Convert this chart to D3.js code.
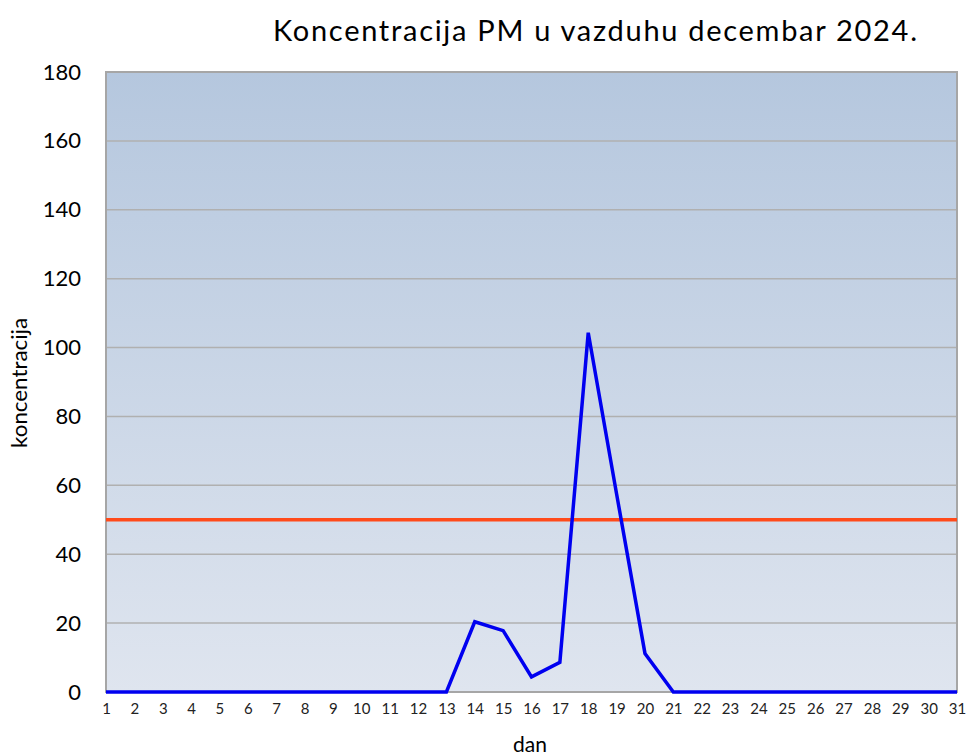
<!DOCTYPE html>
<html><head><meta charset="utf-8">
<script src="https://cdn.jsdelivr.net/npm/d3@7"></script>
<style>body{margin:0;background:#fff}svg{display:block}text{font-family:Lato,"Open Sans",sans-serif}</style>
</head><body><svg id="c" width="967" height="756"></svg>
<script>
const days = d3.range(1, 32);
const values = [0,0,0,0,0,0,0,0,0,0,0,0,0,20.4,17.8,4.4,8.6,104.3,57.5,11.2,0,0,0,0,0,0,0,0,0,0,0];
const limit = 50;
const yTicks = [0,20,40,60,80,100,120,140,160,180];
const title = "Koncentracija PM u vazduhu decembar 2024.";

const svg = d3.select("#c");
const L=106,R=957,T=72,B=692;
const x = d3.scaleLinear().domain([1,31]).range([L,R]);
const y = d3.scaleLinear().domain([0,180]).range([B,T]);

const defs = svg.append("defs");
const g = defs.append("linearGradient").attr("id","bg").attr("x1",0).attr("y1",0).attr("x2",0).attr("y2",1);
g.append("stop").attr("offset","0%").attr("stop-color","#b5c7de");
g.append("stop").attr("offset","100%").attr("stop-color","#dfe5ef");
svg.append("rect").attr("x",L).attr("y",T).attr("width",R-L).attr("height",B-T).attr("fill","url(#bg)");

svg.append("g").selectAll("line").data(yTicks.filter(d=>d>0)).join("line")
  .attr("x1",L).attr("x2",R).attr("y1",d=>y(d)).attr("y2",d=>y(d))
  .attr("stroke","#b0b0b0").attr("stroke-width",1.5);

svg.append("rect").attr("x",L).attr("y",T).attr("width",R-L).attr("height",B-T)
  .attr("fill","none").attr("stroke","#a6a6a6").attr("stroke-width",2);

// y axis
const ya = svg.append("g").attr("transform",`translate(${L},0)`)
  .call(d3.axisLeft(y).tickValues(yTicks).tickSize(0).tickPadding(25));
ya.select(".domain").remove();
ya.selectAll("text").attr("font-size",22).attr("fill","#000").style("font-family","Lato,sans-serif");

// x axis
const xa = svg.append("g").attr("transform",`translate(0,${B})`)
  .call(d3.axisBottom(x).tickValues(days).tickSize(0).tickPadding(11));
xa.select(".domain").remove();
xa.selectAll("text").attr("font-size",15).attr("fill","#222").style("font-family","Lato,sans-serif");

// limit line
svg.append("line").attr("x1",L).attr("x2",R).attr("y1",y(limit)).attr("y2",y(limit))
  .attr("stroke","#ff4a1a").attr("stroke-width",3.5);

// data line
svg.append("path").datum(values)
  .attr("d", d3.line().x((d,i)=>x(days[i])).y(d=>y(d)))
  .attr("fill","none").attr("stroke","#0000f0").attr("stroke-width",3.5).attr("stroke-linejoin","miter");

svg.append("text").attr("x",595).attr("y",41).attr("text-anchor","middle")
  .attr("font-size",29).attr("textLength",644).attr("lengthAdjust","spacing").text(title);
svg.append("text").attr("x",530).attr("y",752).attr("text-anchor","middle")
  .attr("font-size",21).text("dan");
svg.append("text").attr("transform","translate(27,383) rotate(-90)").attr("text-anchor","middle")
  .attr("font-size",21).attr("textLength",130).attr("lengthAdjust","spacingAndGlyphs").text("koncentracija");
</script></body></html>
